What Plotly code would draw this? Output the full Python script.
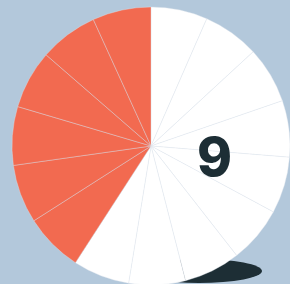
import plotly.graph_objects as go

# Data
slice_labels = [f"s{i+1}" for i in range(15)]
slice_groups = ["white"] * 9 + ["orange"] * 6
slice_values = [23.65] * 9 + [24.5] * 6
count_label = "9"

W, H = 292, 288
cx, cy, R = 151, 146, 139  # pixel centre / radius (from top-left)

color_map = {"white": "#FFFFFF", "orange": "#F26A50"}
colors = [color_map[g] for g in slice_groups]

fig = go.Figure()
fig.add_trace(go.Pie(
    labels=slice_labels,
    values=slice_values,
    sort=False,
    direction="clockwise",
    rotation=0,
    marker=dict(colors=colors, line=dict(color="rgba(222,229,237,0.75)", width=0.5)),
    textinfo="none",
    hoverinfo="none",
    showlegend=False,
    domain=dict(x=[(cx - R) / W, (cx + R) / W], y=[(H - cy - R) / H, (H - cy + R) / H]),
))

# shadow ellipse (below pie)
fig.add_shape(type="circle", xref="paper", yref="paper", layer="below",
              x0=(199 - 63) / W, x1=(199 + 63) / W,
              y0=(H - 271 - 12) / H, y1=(H - 271 + 12) / H,
              fillcolor="#1D2E35", line=dict(width=0))

fig.add_annotation(text=count_label, x=214 / W, y=1 - 157 / H, xref="paper", yref="paper",
                   showarrow=False, xanchor="center", yanchor="middle",
                   font=dict(family="Inter", size=53, color="#1D2E35", weight=800))

fig.update_layout(width=W, height=H, margin=dict(l=0, r=0, t=0, b=0),
                  paper_bgcolor="#B3C8DB", plot_bgcolor="#B3C8DB")
fig.write_html("out.html", config={"displayModeBar": False},
               post_script="document.body.style.margin='0';"
                           "document.body.style.overflow='hidden';"
                           "document.body.style.background='#B3C8DB';")
